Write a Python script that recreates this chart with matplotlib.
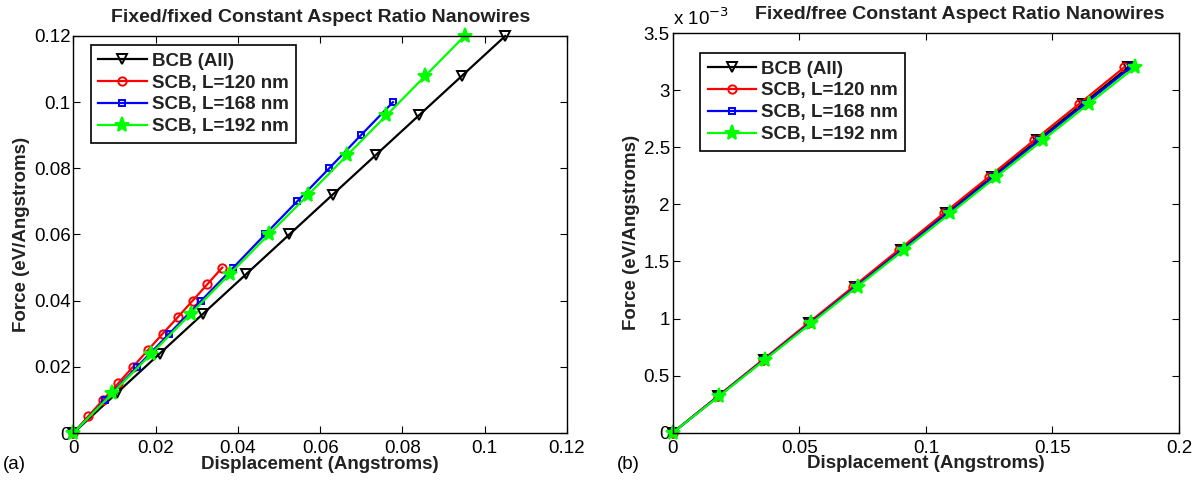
"""
Force vs displacement for constant aspect ratio nanowires
(a) fixed/fixed and (b) fixed/free boundary conditions
"""
import matplotlib
matplotlib.use('Agg')
import matplotlib.pyplot as plt
from matplotlib.ticker import FormatStrFormatter, FuncFormatter

plt.rcParams['font.family'] = ['Liberation Sans', 'DejaVu Sans']

# %% data : panel (a) fixed/fixed
labels = ['BCB (All)', 'SCB, L=120 nm', 'SCB, L=168 nm', 'SCB, L=192 nm']

disp_a_bcb = [0, 0.0105, 0.021, 0.0315, 0.042, 0.0525, 0.063, 0.0735, 0.084, 0.0945, 0.105]
force_a_bcb = [0, 0.012, 0.024, 0.036, 0.048, 0.06, 0.072, 0.084, 0.096, 0.108, 0.12]

disp_a_120 = [0, 0.0036, 0.0072, 0.0109, 0.0145, 0.0181, 0.0217, 0.0254, 0.029, 0.0326, 0.0362]
force_a_120 = [0, 0.005, 0.01, 0.015, 0.02, 0.025, 0.03, 0.035, 0.04, 0.045, 0.05]

disp_a_168 = [0, 0.0078, 0.0155, 0.0233, 0.0311, 0.0389, 0.0466, 0.0544, 0.0622, 0.0699, 0.0777]
force_a_168 = [0, 0.01, 0.02, 0.03, 0.04, 0.05, 0.06, 0.07, 0.08, 0.09, 0.1]

disp_a_192 = [0, 0.0095, 0.019, 0.0285, 0.038, 0.0475, 0.0571, 0.0666, 0.0761, 0.0856, 0.0951]
force_a_192 = [0, 0.012, 0.024, 0.036, 0.048, 0.06, 0.072, 0.084, 0.096, 0.108, 0.12]

# %% data : panel (b) fixed/free, force in units of 1e-3 eV/A
force_b = [0, 0.32, 0.64, 0.96, 1.28, 1.6, 1.92, 2.24, 2.56, 2.88, 3.2]
disp_b_bcb = [0, 0.018, 0.036, 0.054, 0.072, 0.09, 0.108, 0.126, 0.144, 0.162, 0.18]
disp_b_120 = [0, 0.0178, 0.0357, 0.0535, 0.0714, 0.0892, 0.107, 0.1249, 0.1427, 0.1606, 0.1784]
disp_b_168 = [0, 0.0181, 0.0362, 0.0543, 0.0724, 0.0905, 0.1086, 0.1267, 0.1448, 0.1629, 0.181]
disp_b_192 = [0, 0.0183, 0.0365, 0.0548, 0.073, 0.0913, 0.1096, 0.1278, 0.1461, 0.1643, 0.1826]

# %% styles (MATLAB-like)
styles = [dict(color='black', marker='v', markersize=6.5, markerfacecolor='none'),
          dict(color='red', marker='o', markersize=6, markerfacecolor='none'),
          dict(color='blue', marker='s', markersize=5, markerfacecolor='none'),
          dict(color='#00ff00', marker='*', markersize=11, markerfacecolor='#00ff00')]

FS = 13.5


def style_axes(ax):
    ax.tick_params(direction='in', top=True, right=True, length=5,
                   labelsize=FS, width=0.8)
    ax.tick_params(axis='x', pad=5)
    ax.tick_params(axis='y', pad=2)
    for sp in ax.spines.values():
        sp.set_linewidth(1.0)
    ax.set_xlabel('Displacement (Angstroms)', fontsize=FS, fontweight='bold',
                  labelpad=-1, color='#222222')
    ax.set_ylabel('Force (eV/Angstroms)', fontsize=FS, fontweight='bold',
                  labelpad=3, color='#222222')


def add_legend(ax, anchor):
    leg = ax.legend(loc='upper left', bbox_to_anchor=anchor, borderaxespad=0,
                    prop=dict(size=FS, weight='bold'), fancybox=False,
                    edgecolor='black', framealpha=1, handlelength=2.6,
                    handletextpad=0.25, borderpad=0.4, labelspacing=0.25)
    leg.get_frame().set_linewidth(1.2)
    for t in leg.get_texts():
        t.set_color('#222222')


fig = plt.figure(figsize=(12, 4.83), dpi=100)

# %% panel (a)
ax1 = fig.add_axes([0.0611, 0.1035, 0.4114, 0.822])
series_a = [(disp_a_bcb, force_a_bcb), (disp_a_120, force_a_120),
            (disp_a_168, force_a_168), (disp_a_192, force_a_192)]
for (x, y), st, lab in zip(series_a, styles, labels):
    ax1.plot(x, y, linewidth=1.6, markeredgewidth=1.4,
             label=lab, clip_on=False, **st)
ax1.set_xlim(0, 0.12)
ax1.set_ylim(0, 0.12)
ax1.set_xticks([0, 0.02, 0.04, 0.06, 0.08, 0.1, 0.12])
ax1.set_yticks([0, 0.02, 0.04, 0.06, 0.08, 0.1, 0.12])
ax1.xaxis.set_major_formatter(FormatStrFormatter('%g'))
ax1.yaxis.set_major_formatter(FormatStrFormatter('%g'))
style_axes(ax1)
ax1.set_title('Fixed/fixed Constant Aspect Ratio Nanowires', fontsize=14,
              fontweight='bold', pad=10, color='#222222')
add_legend(ax1, (0.035, 0.977))
fig.text(0.002, 0.028, '(a)', fontsize=FS)

# %% panel (b)
ax2 = fig.add_axes([0.5606, 0.1041, 0.4219, 0.8275])
series_b = [disp_b_bcb, disp_b_120, disp_b_168, disp_b_192]
for x, st, lab in zip(series_b, styles, labels):
    ax2.plot(x, force_b, linewidth=1.6, markeredgewidth=1.4,
             label=lab, clip_on=False, **st)
ax2.set_xlim(0, 0.2)
ax2.set_ylim(0, 3.5)
ax2.set_xticks([0, 0.05, 0.1, 0.15, 0.2])
ax2.set_yticks([0, 0.5, 1, 1.5, 2, 2.5, 3, 3.5])
ax2.xaxis.set_major_formatter(FormatStrFormatter('%g'))
ax2.yaxis.set_major_formatter(FuncFormatter(lambda v, p: '%g' % v))
style_axes(ax2)
ax2.set_title('Fixed/free Constant Aspect Ratio Nanowires', fontsize=14,
              fontweight='bold', pad=10, color='#222222', x=0.566)
ax2.text(0.0, 1.01, r'x 10$^{-3}$', transform=ax2.transAxes, fontsize=FS,
         ha='left', va='bottom')
add_legend(ax2, (0.054, 0.95))
fig.text(0.514, 0.028, '(b)', fontsize=FS)

fig.savefig('out.png', dpi=100)
